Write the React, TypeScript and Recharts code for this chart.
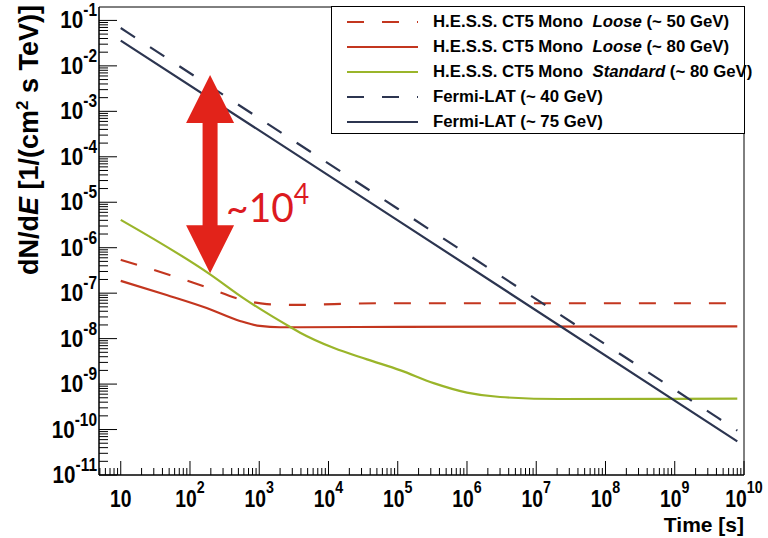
import React from "react";
import {
  LineChart,
  Line,
  XAxis,
  YAxis,
  ReferenceLine,
  ReferenceArea,
  Legend,
} from "recharts";

// times in s, flux dN/dE in 1/(cm^2 s TeV)
const looseLowT = [10, 56, 174, 525, 1290, 3900, 1.2e4, 5.6e4, 8e9];
const looseLowF = [5.4e-7, 2.4e-7, 1.35e-7, 7.4e-8, 5.75e-8, 5.5e-8, 5.75e-8, 6.0e-8, 6.0e-8];

const looseHighT = [10, 46, 174, 525, 1020, 2000, 3900, 1.1e5, 8e9];
const looseHighF = [1.86e-7, 9.1e-8, 4.7e-8, 2.45e-8, 1.9e-8, 1.78e-8, 1.78e-8, 1.82e-8, 1.86e-8];

const standardT = [10, 195, 590, 2800, 3900, 1.2e4, 3.6e4, 1.1e5, 3.3e5, 1e6, 3e6, 2.2e7, 8e9];
const standardF = [4.1e-6, 2.6e-7, 7.8e-8, 1.8e-8, 1.35e-8, 6.2e-9, 3.5e-9, 2.0e-9, 1.05e-9, 6.5e-10, 5.2e-10, 4.7e-10, 4.8e-10];

const fermiLowT = [10, 1e5, 8e9];
const fermiLowF = [0.068, 7.2e-6, 9.5e-11];

const fermiHighT = [10, 1e5, 8e9];
const fermiHighF = [0.036, 4e-6, 5.5e-11];

const xMin = 0.686;
const xMax = 10;
const yMin = -11;
const yMax = -0.705;

// the ~10^4 arrow, in data units
const arrowT = 195;
const arrowTop = 6.3e-3;
const arrowBottom = 2.75e-7;

const RED = "#c3361f";
const GREEN = "#9ab52a";
const NAVY = "#2c3550";
const DASH = "17 18";

const toPoints = (ts: number[], fs: number[]) =>
  ts.map((t, i) => ({ x: Math.log10(t), y: Math.log10(fs[i]) }));

const series = [
  { key: "l50", pre: "H.E.S.S. CT5 Mono  ", it: "Loose", post: " (~ 50 GeV)", color: RED, dash: DASH, data: toPoints(looseLowT, looseLowF) },
  { key: "l80", pre: "H.E.S.S. CT5 Mono  ", it: "Loose", post: " (~ 80 GeV)", color: RED, dash: undefined, data: toPoints(looseHighT, looseHighF) },
  { key: "s80", pre: "H.E.S.S. CT5 Mono  ", it: "Standard", post: " (~ 80 GeV)", color: GREEN, dash: undefined, data: toPoints(standardT, standardF) },
  { key: "f40", pre: "Fermi-LAT (~ 40 GeV)", it: "", post: "", color: NAVY, dash: DASH, data: toPoints(fermiLowT, fermiLowF) },
  { key: "f75", pre: "Fermi-LAT (~ 75 GeV)", it: "", post: "", color: NAVY, dash: undefined, data: toPoints(fermiHighT, fermiHighF) },
];

const minorTicks = (lo: number, hi: number) => {
  const out: number[] = [];
  for (let n = Math.floor(lo) - 1; n <= Math.ceil(hi); n++) {
    for (let k = 1; k <= 9; k++) {
      const v = n + Math.log10(k);
      if (v >= lo - 1e-9 && v <= hi + 1e-9) out.push(v);
    }
  }
  return out;
};

const xTicks = minorTicks(xMin, xMax);
const yTicks = minorTicks(yMin, yMax);

const FONT = "'Liberation Sans', Arial, Helvetica, sans-serif";
const isMajor = (v: number) => Math.abs(v - Math.round(v)) < 1e-6;

function XTick(props: any) {
  const { x, y, payload } = props;
  const v = payload.value;
  const major = isMajor(v);
  return (
    <g>
      <line x1={x} y1={y} x2={x} y2={y - (major ? 14 : 7)} stroke="#000" />
      {major && (
        <text
          transform={`translate(${x},${y + 32}) scale(0.84,1)`}
          textAnchor="middle"
          fontFamily={FONT}
          fontWeight="bold"
          fontSize={23}
          fill="#000"
        >
          10
          {Math.round(v) !== 1 && (
            <tspan dy={-14} fontSize={17}>
              {Math.round(v)}
            </tspan>
          )}
        </text>
      )}
    </g>
  );
}

function YTick(props: any) {
  const { x, y, payload } = props;
  const v = payload.value;
  const major = isMajor(v);
  return (
    <g>
      <line x1={x} y1={y} x2={x + (major ? 18 : 9)} y2={y} stroke="#000" />
      {major && (
        <text
          transform={`translate(${x - 2},${y + 8}) scale(0.86,1)`}
          textAnchor="end"
          fontFamily={FONT}
          fontWeight="bold"
          fontSize={24}
          fill="#000"
        >
          10
          <tspan dy={-12} fontSize={18}>
            {Math.round(v)}
          </tspan>
        </text>
      )}
    </g>
  );
}

function YTitle() {
  return (
    <text
      transform="translate(38,5) rotate(-90)"
      textAnchor="end"
      fontFamily={FONT}
      fontWeight="bold"
      fontSize={27}
      fill="#000"
    >
      dN/d<tspan fontStyle="italic">E</tspan> [1/(cm
      <tspan dy={-10} fontSize={17}>2</tspan>
      <tspan dy={10}> s TeV)]</tspan>
    </text>
  );
}

function XTitle() {
  return (
    <text x={744} y={532} textAnchor="end" fontFamily={FONT} fontWeight="bold" fontSize={21} fill="#000">
      Time [s]
    </text>
  );
}

function DoubleArrow(props: any) {
  const { x1, y1, y2 } = props;
  const top = Math.min(y1, y2);
  const bot = Math.max(y1, y2);
  const x = x1;
  const hw = 24;
  const hl = 48;
  const sw = 7.5;
  const pts = [
    [x, top],
    [x + hw, top + hl],
    [x + sw, top + hl],
    [x + sw, bot - hl],
    [x + hw, bot - hl],
    [x, bot],
    [x - hw, bot - hl],
    [x - sw, bot - hl],
    [x - sw, top + hl],
    [x - hw, top + hl],
  ]
    .map((p) => p.join(","))
    .join(" ");
  const mid = (top + bot) / 2;
  return (
    <g>
      <polygon points={pts} fill="#e2231a" />
      <text
        transform={`translate(${x + 16},${mid + 48}) scale(0.95,1)`}
        fontFamily="Lato, 'Open Sans', sans-serif"
        fontSize={41}
        fill="#dc1a1f"
      >
        ~10
        <tspan dy={-18} fontSize={28}>4</tspan>
      </text>
    </g>
  );
}

function LegendBox() {
  return (
    <div
      style={{
        width: "100%",
        height: "100%",
        boxSizing: "border-box",
        border: "1px solid #000",
        background: "#fff",
        position: "relative",
        fontFamily: FONT,
        fontWeight: "bold",
        fontSize: 16.8,
        color: "#000",
      }}
    >
      {series.map((s, i) => (
        <div
          key={s.key}
          style={{ position: "absolute", left: 0, top: 14.5 + i * 25 - 10, height: 20, width: "100%" }}
        >
          <svg width={90} height={20} style={{ position: "absolute", left: 0, top: 0 }}>
            <line x1={15} y1={10} x2={86} y2={10} stroke={s.color} strokeWidth={2.2} strokeDasharray={s.dash} />
          </svg>
          <span style={{ position: "absolute", left: 101, top: 0, whiteSpace: "pre", lineHeight: "20px" }}>
            {s.pre}
            {s.it && <i>{s.it}</i>}
            {s.post}
          </span>
        </div>
      ))}
    </div>
  );
}

export default function App() {
  return (
    <div style={{ position: "absolute", left: 0, top: 0, background: "#fff" }}>
      <LineChart width={768} height={538} margin={{ top: 7, right: 24, left: 0, bottom: 0 }}>
        <XAxis
          dataKey="x"
          type="number"
          domain={[xMin, xMax]}
          allowDataOverflow
          ticks={xTicks}
          interval={0}
          tick={XTick}
          tickLine={false}
          tickSize={0}
          tickMargin={0}
          axisLine={{ stroke: "#000" }}
          height={63}
          label={<XTitle />}
        />
        <YAxis
          type="number"
          domain={[yMin, yMax]}
          allowDataOverflow
          ticks={yTicks}
          interval={0}
          tick={YTick}
          tickLine={false}
          tickSize={0}
          tickMargin={0}
          axisLine={{ stroke: "#000" }}
          width={99}
          label={<YTitle />}
        />
        <ReferenceArea x1={xMin} x2={xMax} y1={yMin} y2={yMax} fill="none" stroke="#000" ifOverflow="visible" />
        {series.map((s) => (
          <Line
            key={s.key}
            data={s.data}
            dataKey="y"
            type="monotone"
            stroke={s.color}
            strokeWidth={2.2}
            strokeDasharray={s.dash}
            dot={false}
            activeDot={false}
            isAnimationActive={false}
          />
        ))}
        <ReferenceLine
          segment={[
            { x: Math.log10(arrowT), y: Math.log10(arrowTop) },
            { x: Math.log10(arrowT), y: Math.log10(arrowBottom) },
          ]}
          ifOverflow="visible"
          shape={(p: any) => <DoubleArrow {...p} />}
        />
        <Legend
          layout="horizontal"
          verticalAlign="middle"
          align="center"
          content={() => <LegendBox />}
          wrapperStyle={{ left: 331, top: 6, width: 414, height: 128 }}
        />
      </LineChart>
    </div>
  );
}
